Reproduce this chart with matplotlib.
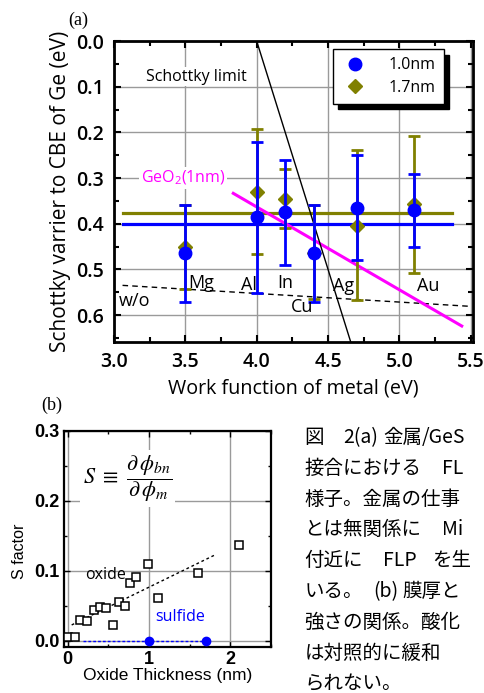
import numpy as np
import matplotlib.pyplot as plt
from matplotlib.ticker import MultipleLocator
from matplotlib.lines import Line2D

# panel (a): Schottky barrier vs metal work function
metals = ['Mg', 'Al', 'In', 'Cu', 'Ag', 'Au']
wf = [3.5, 4.0, 4.2, 4.4, 4.7, 5.1]
sb_10 = [0.465, 0.386, 0.374, 0.465, 0.365, 0.369]
sb_10_top = [0.358, 0.22, 0.26, 0.36, 0.25, 0.291]
sb_10_bot = [0.571, 0.551, 0.491, 0.571, 0.48, 0.45]
sb_17 = [0.45, 0.33, 0.346, 0.465, 0.405, 0.357]
sb_17_top = [0.36, 0.193, 0.281, 0.36, 0.239, 0.207]
sb_17_bot = [0.542, 0.466, 0.409, 0.564, 0.567, 0.508]
mean_10 = 0.401
mean_17 = 0.377
mean_x = [3.06, 5.37]
wo_x = [3.06, 5.50]
wo_y = [0.535, 0.581]
geo2_x = [3.836, 5.437]
geo2_y = [0.3335, 0.624]
schottky_x = [4.0, 4.66]
chi_ge = 4.0

label_pos = {'Mg': (3.611, 0.529), 'Al': (3.946, 0.534), 'In': (4.198, 0.529),
             'Cu': (4.317, 0.583), 'Ag': (4.611, 0.536), 'Au': (5.203, 0.536)}

# panel (b): S factor vs oxide thickness
ox_t = [0.0, 0.09, 0.156, 0.242, 0.32, 0.394, 0.476, 0.558, 0.628, 0.706,
        0.771, 0.845, 0.985, 1.104, 1.605, 2.10]
ox_s = [0.0049, 0.0057, 0.0296, 0.0282, 0.0439, 0.0487, 0.0463, 0.0225, 0.0554, 0.0496,
        0.083, 0.0907, 0.109, 0.061, 0.0969, 0.137]
fit_t = [0.049, 1.826]
fit_s = [0.0225, 0.1236]
sul_t = [1.0, 1.7]
sul_s = [0.0, 0.0]
sul_line_t = [0.193, 1.7]

caption = ['図\u30002(a)金属/GeS', '接合における\u3000FL', '様子。金属の仕事',
           'とは無関係に\u3000Mi', '付近に\u3000FLP\u3000を生', 'いる。 (b)膜厚と',
           '強さの関係。酸化', 'は対照的に緩和', 'られない。']

BLUE = '#0000ff'
OLIVE = '#808000'
MAG = '#ff00ff'
GRID = '#9a9a9a'
W, H = 485, 693

fig = plt.figure(figsize=(4.85, 6.93), dpi=100)

# ---------------- (a)
ax = fig.add_axes([0.235, 0.5065, 0.740, 0.4343])
ax.set_xlim(3.0, 5.515)
ax.set_ylim(0.659, 0.0)
ax.xaxis.set_major_locator(MultipleLocator(0.5))
ax.xaxis.set_minor_locator(MultipleLocator(0.25))
ax.yaxis.set_major_locator(MultipleLocator(0.1))
ax.yaxis.set_minor_locator(MultipleLocator(0.05))
ax.xaxis.set_major_formatter(plt.FormatStrFormatter('%.1f'))
ax.yaxis.set_major_formatter(plt.FormatStrFormatter('%.1f'))
ax.grid(True, which='major', color=GRID, lw=1.0, zorder=0)
ax.set_axisbelow(True)
ax.tick_params(which='both', direction='in', top=True, right=True, width=1.5)
ax.tick_params(which='major', length=5, labelsize=14, pad=7)
ax.tick_params(which='minor', length=3.5)
for lab in ax.get_xticklabels() + ax.get_yticklabels():
    lab.set_fontfamily('Open Sans')
    lab.set_fontweight('semibold')
for sp in ax.spines.values():
    sp.set_linewidth(2.0)

ax.plot(mean_x, [mean_17, mean_17], color=OLIVE, lw=2.3, zorder=3)
ax.plot(mean_x, [mean_10, mean_10], color=BLUE, lw=2.3, zorder=3)
ax.plot(wo_x, wo_y, 'k--', lw=1.0, dashes=(4, 3), zorder=3)
ax.plot(geo2_x, geo2_y, color=MAG, lw=2.2, zorder=3)
sx = np.array(schottky_x)
ax.plot(sx, sx - chi_ge, color='k', lw=1.0, zorder=3)

sb17 = np.array(sb_17)
sb10 = np.array(sb_10)
err17 = [sb17 - np.array(sb_17_top), np.array(sb_17_bot) - sb17]
err10 = [sb10 - np.array(sb_10_top), np.array(sb_10_bot) - sb10]
ax.errorbar(wf, sb17, yerr=err17, fmt='D', color=OLIVE, ms=7, elinewidth=2,
            capsize=4, capthick=2, zorder=4)
ax.errorbar(wf, sb10, yerr=err10, fmt='o', color=BLUE, ms=9, elinewidth=2,
            capsize=4, capthick=2, zorder=5)

for m in metals:
    x, y = label_pos[m]
    ax.text(x, y, m, ha='center', va='center', fontsize=13, family='Open Sans', zorder=6)
ax.text(3.145, 0.569, 'w/o', ha='center', va='center', fontsize=13, family='Open Sans')
ax.text(3.577, 0.078, 'Schottky limit', ha='center', va='center', fontsize=11.5,
        family='Open Sans', bbox=dict(fc='white', ec='none', pad=1), zorder=6)
ax.text(3.484, 0.30, r'GeO$_\mathregular{2}$(1nm)', ha='center', va='center', fontsize=11.5,
        family='Open Sans', color=MAG, bbox=dict(fc='white', ec='none', pad=1), zorder=6)

handles = [Line2D([], [], marker='o', color=BLUE, ls='none', ms=9),
           Line2D([], [], marker='D', color=OLIVE, ls='none', ms=7)]
leg = ax.legend(handles, ['1.0nm', '1.7nm'], loc='upper left', bbox_to_anchor=(0.61, 0.972),
                fancybox=False, edgecolor='black', framealpha=1,
                shadow={'ox': 4, 'oy': -4, 'color': 'black', 'alpha': 1},
                prop={'family': 'Open Sans', 'size': 11.5}, handletextpad=1.2,
                borderpad=0.5, handlelength=1.8, labelspacing=0.4, borderaxespad=0)
leg.get_frame().set_linewidth(1.0)

ax.set_xlabel('Work function of metal (eV)', fontsize=14.2, family='Open Sans')
ax.set_ylabel('Schottky varrier to CBE of Ge (eV)', fontsize=15, family='Open Sans')
ax.xaxis.set_label_coords(0.5, -0.153)
ax.xaxis.label.set_va('center')
ax.yaxis.set_label_coords(-0.150, 0.5)
ax.yaxis.label.set_va('center')

fig.text(78 / W, 1 - 20 / H, '(a)', ha='center', va='center', fontsize=13,
         family='Liberation Serif')

# ---------------- (b)
bx = fig.add_axes([0.132, 0.0664, 0.427, 0.3117])
bx.set_xlim(-0.045, 2.5)
bx.set_ylim(-0.009, 0.3)
bx.xaxis.set_major_locator(MultipleLocator(1))
bx.xaxis.set_minor_locator(MultipleLocator(0.5))
bx.yaxis.set_major_locator(MultipleLocator(0.1))
bx.yaxis.set_minor_locator(MultipleLocator(0.05))
bx.xaxis.set_major_formatter(plt.FormatStrFormatter('%d'))
bx.yaxis.set_major_formatter(plt.FormatStrFormatter('%.1f'))
bx.grid(True, which='major', color=GRID, lw=1.0)
bx.set_axisbelow(True)
bx.tick_params(which='both', direction='in', top=True, right=True, width=1.0)
bx.tick_params(which='major', length=4, labelsize=13, pad=3)
bx.tick_params(which='minor', length=2.5)
for lab in bx.get_xticklabels() + bx.get_yticklabels():
    lab.set_fontfamily('Liberation Sans')
    lab.set_fontweight('bold')
for sp in bx.spines.values():
    sp.set_linewidth(1.6)

bx.plot(fit_t, fit_s, 'k', ls=(0, (2, 2)), lw=1.0, zorder=3)
bx.plot(ox_t, ox_s, 's', mfc='white', mec='black', mew=1.1, ms=6, ls='none', zorder=4)
bx.plot(sul_line_t, [0, 0], color=BLUE, ls=(0, (2, 1.5)), lw=1.0, zorder=3)
bx.plot(sul_t, sul_s, 'o', color=BLUE, ms=6, ls='none', zorder=4, clip_on=False)

bx.text(0.466, 0.094, 'oxide', ha='center', va='center', fontsize=11.5, family='Open Sans')
bx.text(1.377, 0.0344, 'sulfide', ha='center', va='center', fontsize=11.5,
        family='Open Sans', color=BLUE)
bx.text(0.736, 0.232, r'$S\ \equiv\ \dfrac{\partial\,\phi_{bn}}{\partial\,\phi_{m}}$',
        ha='center', va='center', fontsize=16, math_fontfamily='stix',
        bbox=dict(fc='white', ec='none', pad=2), zorder=5)

bx.set_xlabel('Oxide Thickness (nm)', fontsize=12.5, family='Liberation Sans')
bx.set_ylabel('S factor', fontsize=11.5, family='Liberation Sans')
bx.xaxis.set_label_coords(0.5, -0.13)
bx.xaxis.label.set_va('center')
bx.yaxis.set_label_coords(-0.213, 0.444)
bx.yaxis.label.set_va('center')

fig.text(52 / W, 1 - 405 / H, '(b)', ha='center', va='center', fontsize=13,
         family='Liberation Serif')

# caption on the right: runs of full-width / half-width text placed on a
# character grid, cut at the figure edge like the original page
full_w = 19.6


def split_runs(line):
    runs = []
    for ch in line:
        wide = ord(ch) > 0x2000
        if runs and runs[-1][0] == wide:
            runs[-1][1] += ch
        else:
            runs.append([wide, ch])
    return runs


for i, line in enumerate(caption):
    base_y = 436 + 30.8 * i + 7
    xc = 304.5
    for wide, seg in split_runs(line):
        step = full_w if wide else full_w / 2
        lead = len(seg) - len(seg.lstrip(' \u3000'))
        body = seg.strip(' \u3000')
        if body:
            fig.text((xc + lead * step) / W, 1 - base_y / H, body, ha='left',
                     va='baseline', fontsize=14, family=['Noto Sans CJK JP', 'DejaVu Sans'])
        xc += step * len(seg)

fig.savefig('out.png', dpi=100)
